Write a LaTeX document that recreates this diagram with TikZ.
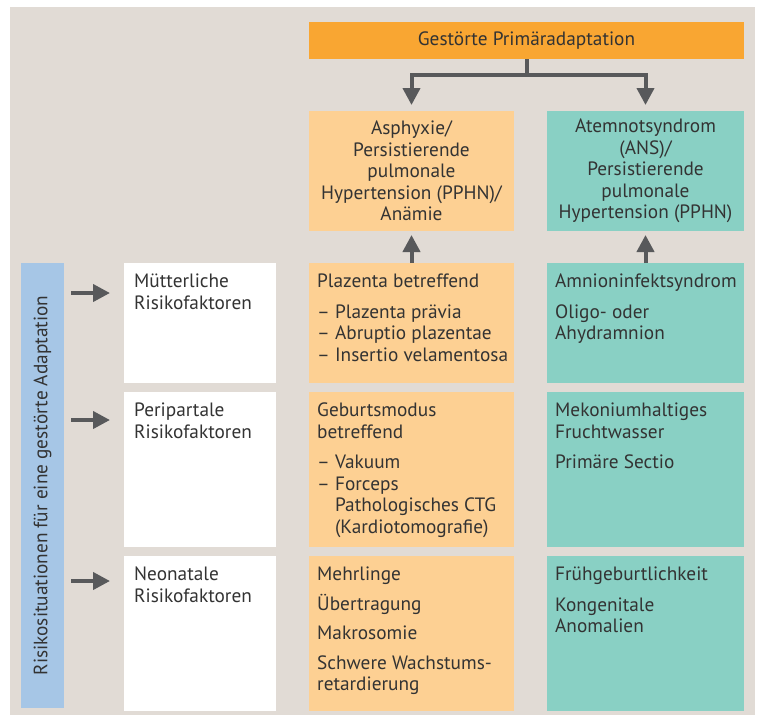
\documentclass[tikz,border=0pt]{standalone}
\usepackage{fontspec}
\setmainfont{PT Sans}
\usetikzlibrary{positioning, arrows.meta}
\definecolor{bgbeige}{HTML}{E1DBD5}
\definecolor{topor}{HTML}{F9A632}
\definecolor{peach}{HTML}{FDD093}
\definecolor{mint}{HTML}{89D0C4}
\definecolor{paleblue}{HTML}{A6C6E6}
\definecolor{arrowgray}{HTML}{58595B}
\definecolor{ink}{HTML}{333333}
\tikzset{
    every node/.style={font=\fontsize{19.3pt}{21.5pt}\selectfont, text=ink}, % one size for all text
    box/.style={anchor=north west, inner sep=0pt, outer sep=0pt}, % plain filled rectangle
    obox/.style={box, fill=peach, minimum width=205pt},
    tbox/.style={box, fill=mint, minimum width=197pt},
    wbox/.style={box, fill=white, minimum width=152pt},
    txt/.style={anchor=north west, align=left, inner xsep=8pt, inner ysep=11pt}, % text at the top left of a box
    arr/.style={-{Triangle[width=17pt,length=17pt]}, line width=4pt, draw=arrowgray},
}

\begin{document}
\begin{tikzpicture}[x=1pt, y=-1pt]
    \useasboundingbox (0,0) rectangle (760,715);
    \fill[bgbeige] (10,7) rectangle (755,715);

    % --- Top row ---
    \node[box, fill=topor, minimum width=435pt, minimum height=37pt] (prim) at (309,22) {};
    \node at (prim.center) {Gestörte Primäradaptation};

    \node[obox, minimum height=120pt, align=center] (asph) at (309,111) {};
    \node[align=center] at (asph.center) {Asphyxie/\\Persistierende\\pulmonale\\Hypertension (PPHN)/\\Anämie};
    \node[tbox, minimum height=120pt] (atem) at (547,111) {};
    \node[align=center] at (atem.center) {Atemnotsyndrom\\(ANS)/\\Persistierende\\pulmonale\\Hypertension (PPHN)};

    % --- Side bar ---
    \node[box, fill=paleblue, minimum width=43pt, minimum height=445pt] (bar) at (21,263) {};
    \node[rotate=90] at (bar.center) {Risikosituationen für eine gestörte Adaptation};

    % --- Row 1: maternal ---
    \node[wbox, minimum height=120pt] (mut) at (124,263) {};
    \node[txt, inner xsep=10pt] at (mut.north west) {Mütterliche\\Risikofaktoren};
    \node[obox, minimum height=120pt] (plaz) at (309,263) {};
    \node[txt] at (plaz.north west) {Plazenta betreffend\\[9pt]– Plazenta prävia\\– Abruptio plazentae\\– Insertio velamentosa};
    \node[tbox, minimum height=120pt] (amni) at (547,263) {};
    \node[txt] at (amni.north west) {Amnioninfektsyndrom\\[9pt]Oligo- oder\\Ahydramnion};

    % --- Row 2: peripartal ---
    \node[wbox, minimum height=155pt] (peri) at (124,392) {};
    \node[txt, inner xsep=10pt] at (peri.north west) {Peripartale\\Risikofaktoren};
    \node[obox, minimum height=155pt] (geb) at (309,392) {};
    \node[txt] at (geb.north west) {Geburtsmodus\\betreffend\\[9pt]– Vakuum\\– Forceps\\\hphantom{– }Pathologisches CTG\\\hphantom{– }(Kardiotomografie)};
    \node[tbox, minimum height=155pt] (mek) at (547,392) {};
    \node[txt] at (mek.north west) {Mekoniumhaltiges\\Fruchtwasser\\[9pt]Primäre Sectio};

    % --- Row 3: neonatal ---
    \node[wbox, minimum height=155pt] (neo) at (124,556) {};
    \node[txt, inner xsep=10pt] at (neo.north west) {Neonatale\\Risikofaktoren};
    \node[obox, minimum height=155pt] (mehr) at (309,556) {};
    \node[txt] at (mehr.north west) {Mehrlinge\\[8pt]Übertragung\\[8pt]Makrosomie\\[8pt]Schwere Wachstums-\\retardierung};
    \node[tbox, minimum height=155pt] (fru) at (547,556) {};
    \node[txt] at (fru.north west) {Frühgeburtlichkeit\\[9pt]Kongenitale\\Anomalien};

    % --- Arrows ---
    \coordinate (fork) at ([yshift=-16pt]prim.south);
    \draw[line width=4pt, arrowgray] (prim.south) -- (fork);
    \draw[arr, shorten >=6pt] (fork) -| (asph.north);
    \draw[arr, shorten >=6pt] (fork) -| (atem.north);
    \draw[arr, shorten >=4pt] (plaz.north) -- (asph.south);
    \draw[arr, shorten >=4pt] (amni.north) -- (atem.south);

    \foreach \row/\dy in {mut/30, peri/28, neo/25} {
        \coordinate (a-\row) at ([yshift=-\dy pt]\row.north west);
        \draw[arr, shorten <=7pt, shorten >=14pt] (a-\row -| bar.east) -- (a-\row);
    }
\end{tikzpicture}
\end{document}
